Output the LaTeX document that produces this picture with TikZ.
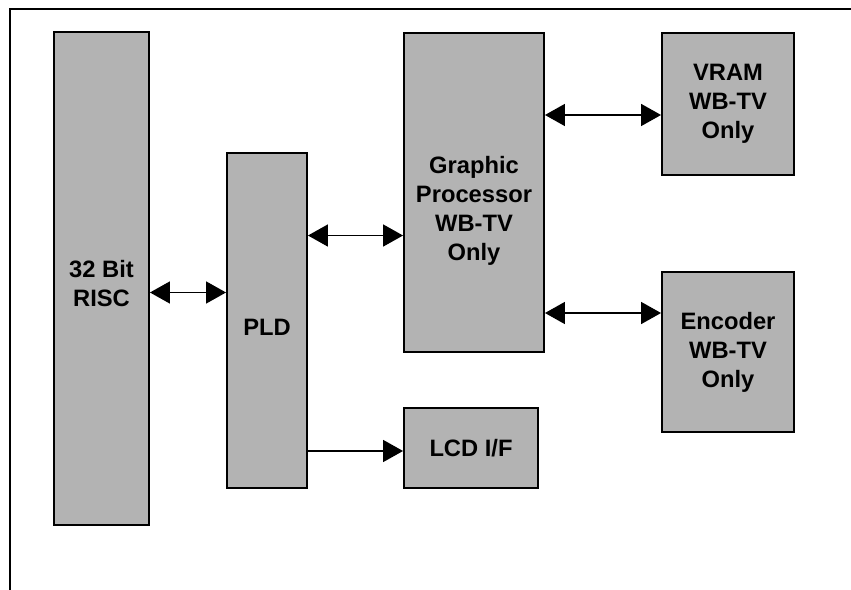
\documentclass[tikz,border=0pt]{standalone}
\usepackage{fontspec}
\setmainfont{Liberation Sans}
\usepackage{xcolor}
\usetikzlibrary{arrows.meta, positioning}
\definecolor{blockgray}{HTML}{B3B3B3}

\begin{document}
\begin{tikzpicture}[
    x=0.02cm, y=-0.02cm,
    block/.style={rectangle, draw=black, fill=blockgray, line width=1.1pt,
                  align=center, inner sep=0pt,
                  font=\fontsize{13.5}{16.5}\selectfont\bfseries},
    link/.style={{Triangle[length=0.4cm, width=0.44cm]}-{Triangle[length=0.4cm, width=0.44cm]}, line width=0.9pt},
    feed/.style={-{Triangle[length=0.4cm, width=0.44cm]}, line width=0.9pt}
]
\useasboundingbox (0,0) rectangle (851,590);
\draw[line width=1.1pt] (10,590) -- (10,9) -- (851,9);

\node[block, minimum width=1.9cm, minimum height=9.86cm] (risc) at (101.5,278.5) {\rule{0pt}{16pt}32 Bit\\RISC};
\node[block, minimum width=1.6cm, minimum height=6.7cm] (pld) at (267,320.5) {\rule{0pt}{17pt}PLD};
\node[block, minimum width=2.8cm, minimum height=6.38cm] (gp) at (474,192.5) {\rule{0pt}{31pt}Graphic\\Processor\\WB-TV\\Only};
\node[block, minimum width=2.64cm, minimum height=2.84cm] (vram) at (728,104) {VRAM\\WB-TV\\Only};
\node[block, minimum width=2.64cm, minimum height=3.2cm] (enc) at (728,352) {Encoder\\WB-TV\\Only};
\node[block, minimum width=2.68cm, minimum height=1.6cm] (lcd) at (471,448) {LCD I/F};

\draw[link] ([yshift=-0.28cm]risc.east) -- ([yshift=-0.28cm]risc.east -| pld.west);
\draw[link] ([yshift=1.7cm]pld.east) -- ([yshift=1.7cm]pld.east -| gp.west);
\draw[link] ([yshift=-0.22cm]vram.west) -- ([yshift=-0.22cm]vram.west -| gp.east);
\draw[link] ([yshift=0.78cm]enc.west) -- ([yshift=0.78cm]enc.west -| gp.east);
\draw[feed] ([yshift=-0.06cm]lcd.west -| pld.east) -- ([yshift=-0.06cm]lcd.west);

\end{tikzpicture}
\end{document}
